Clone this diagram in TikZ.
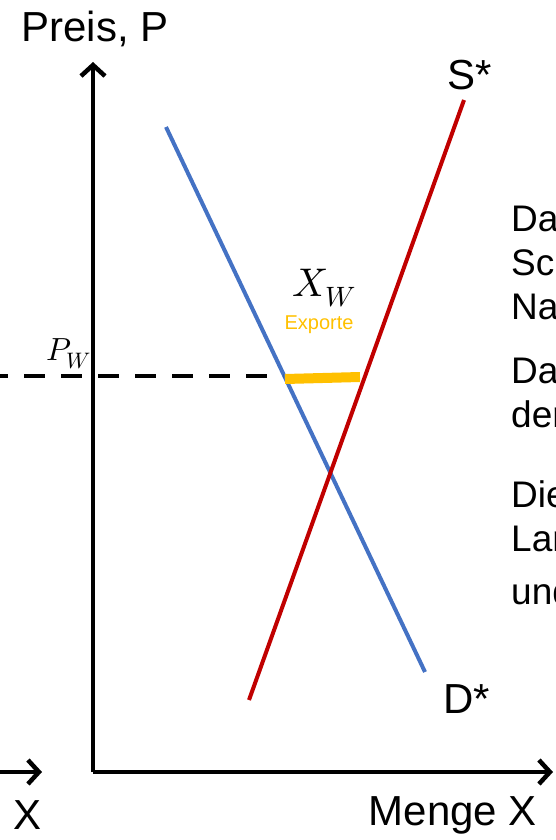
\documentclass[tikz,border=0pt]{standalone}
\usepackage{fontspec}
\usepackage{unicode-math}
\setmainfont{Liberation Sans}
\setmathfont{Latin Modern Math}
\usetikzlibrary{arrows.meta}
\definecolor{dblue}{HTML}{4472C4}
\definecolor{sred}{HTML}{C00000}
\definecolor{xorange}{HTML}{FFC000}
\begin{document}
\begin{tikzpicture}[x=1pt,y=-1pt,
  axis/.style={line width=4.5pt,-{Straight Barb[length=11pt,width=24pt]}},
  curve/.style={line width=4pt},
  big/.style={font=\fontsize{42}{50}\selectfont, inner sep=0pt},
  side/.style={font=\fontsize{37}{44}\selectfont, inner sep=0pt, anchor=base west}]
\useasboundingbox (0,0) rectangle (556,840);
\clip (0,0) rectangle (556,840);
% axes
\coordinate (o) at (93,772);
\coordinate (ytip) at (93,62);
\coordinate (xtip) at (553,772);
\coordinate (lstart) at (-2,772);
\coordinate (ltip) at (42,772);
\draw[axis] (o) -- (ytip);
\draw[axis] (o) -- (xtip);
\draw[axis] (lstart) -- (ltip);
% curves
\coordinate (d1) at (166,127);
\coordinate (d2) at (425,672);
\coordinate (s1) at (249,700);
\coordinate (s2) at (464,100);
\draw[curve, dblue] (d1) -- (d2);
\draw[curve, sred] (s1) -- (s2);
% world price
\coordinate (pw0) at (0,376);
\coordinate (pw1) at (283,376);
\draw[line width=4pt, dash pattern=on 21pt off 16pt, dash phase=13pt] (pw0) -- (pw1);
\coordinate (e1) at (285,379);
\coordinate (e2) at (360,377);
\draw[line width=10pt, xorange] (e1) -- (e2);
% labels
\node[big] (ylab) at (95,29) {Preis, P};
\node[big] (slab) at (470,75) {S*};
\node[big] (dlab) at (467,699) {D*};
\node[big] (xlab) at (28,815) {X};
\node[big] (mlab) at (453,815) {Menge X};
\node[inner sep=0pt] (pwlab) at (69,354) {\fontsize{32}{38}\selectfont $P_W$};
\node[inner sep=0pt] (xwlab) at (324,288) {\fontsize{40}{48}\selectfont $X_W$};
\node[inner sep=0pt, text=xorange] (exlab) at (319,325) {\fontsize{20}{24}\selectfont Exporte};
% right side text (cut off at the picture's edge)
\node[side] (t1) at (511,231) {Da};
\node[side] (t2) at (511,275) {Sc};
\node[side] (t3) at (511,319) {Na};
\node[side] (t4) at (511,383) {Da};
\node[side] (t5) at (511,427) {der};
\node[side] (t6) at (511,507) {Die};
\node[side] (t7) at (511,551) {Lan};
\node[side] (t8) at (511,604) {und};
\end{tikzpicture}
\end{document}
